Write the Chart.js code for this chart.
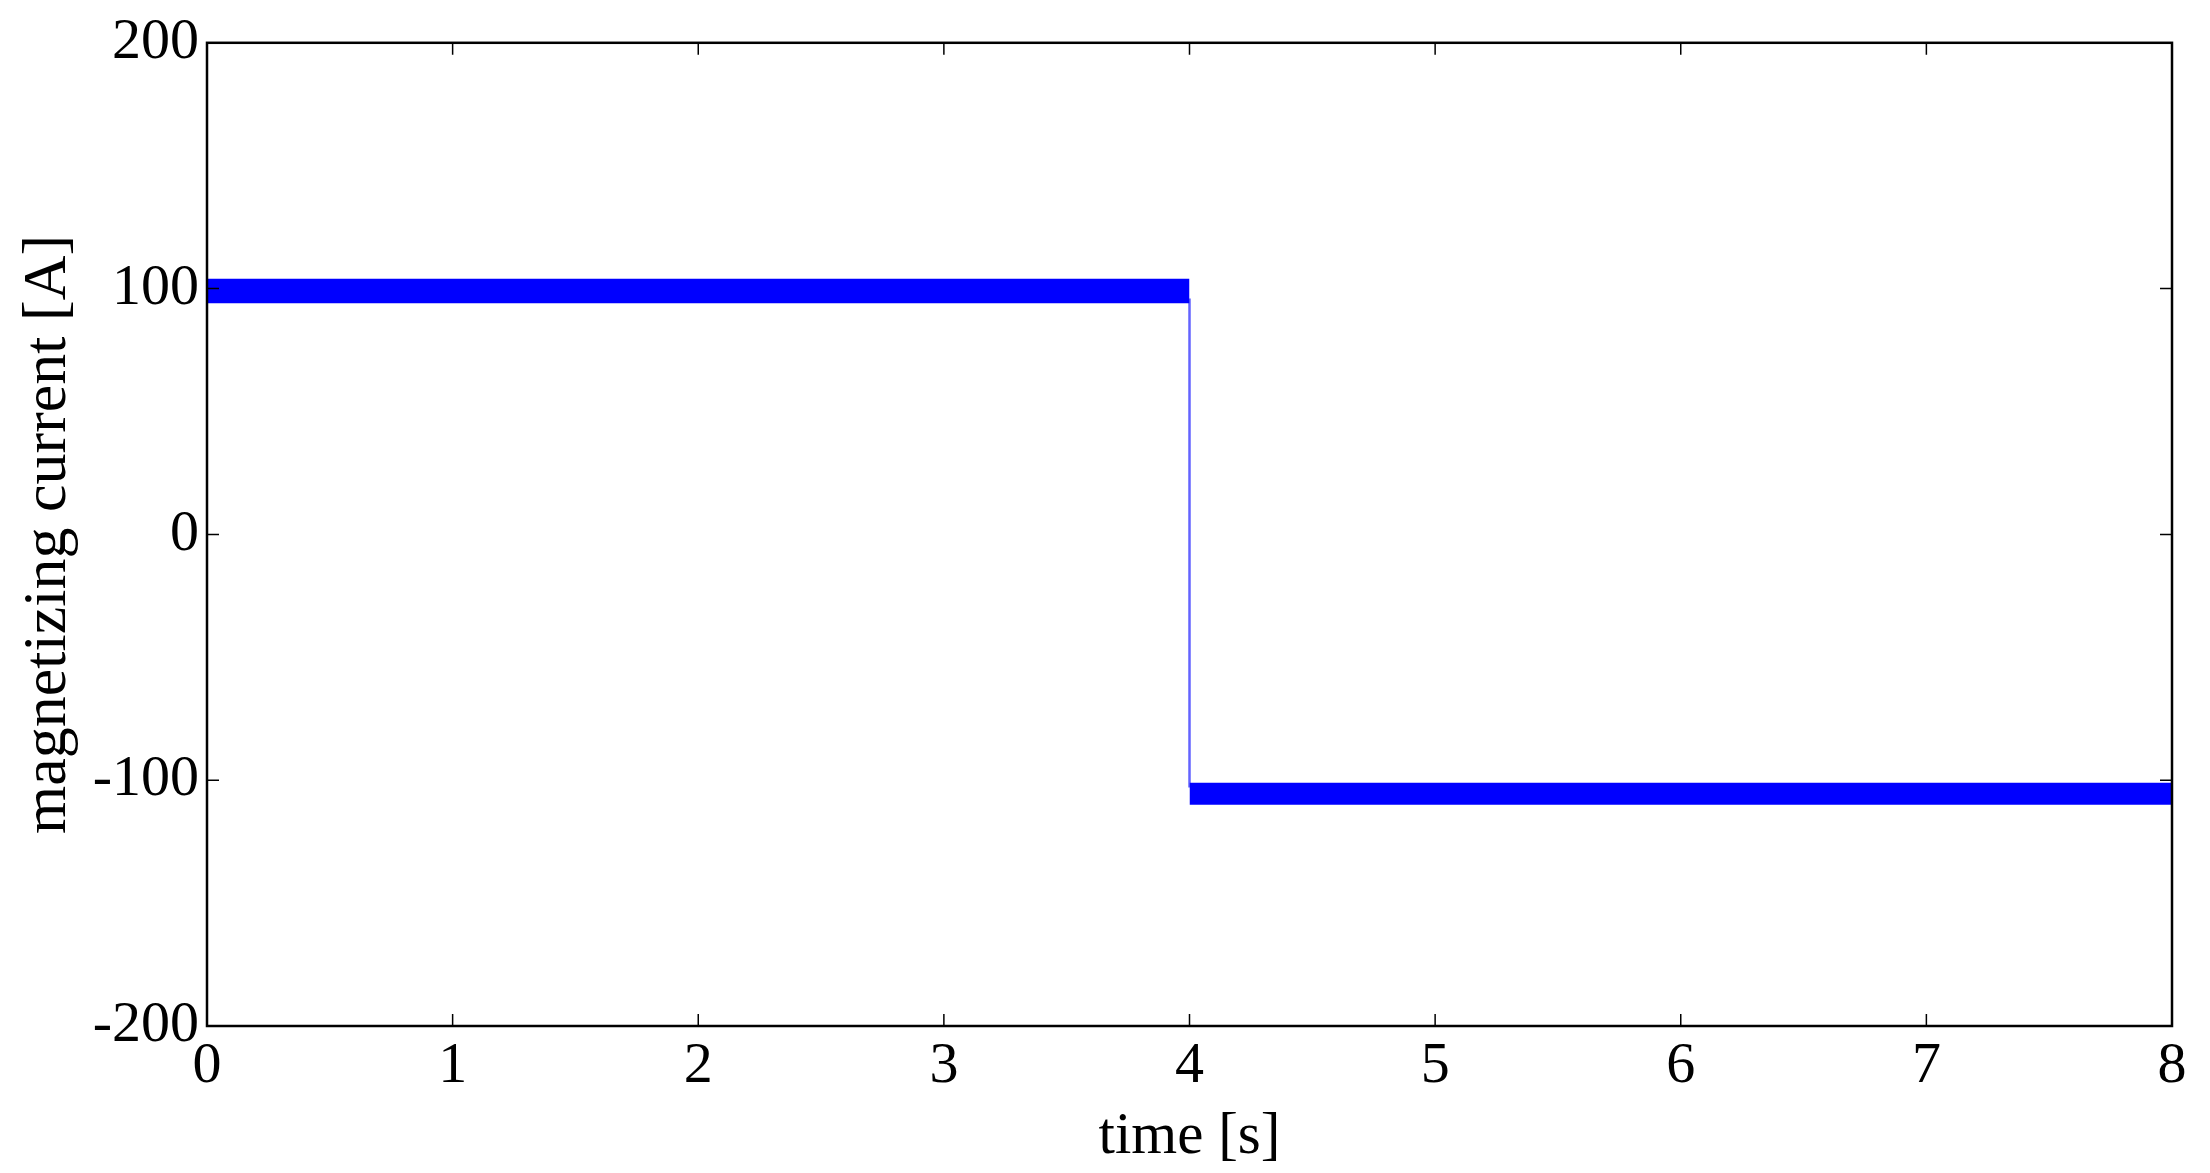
<!DOCTYPE html>
<html><head><meta charset="utf-8">
<script src="https://cdn.jsdelivr.net/npm/chart.js@4"></script>
<style>html,body{margin:0;padding:0;background:#fff}#w{width:2210px;height:1173px}</style>
</head><body><div id="w"><canvas id="c"></canvas></div>
<script>
// Envelope of the high-frequency ripple
const timeBefore = [0, 4];
const upperBefore = [104, 104];
const lowerBefore = [94, 94];
const timeAfter = [4, 8];
const upperAfter = [-101, -101];
const lowerAfter = [-110, -110];
const stepTime = [4, 4];
const stepValues = [96, -103];
const xTicks = [0,1,2,3,4,5,6,7,8];
const yTicks = [-200,-100,0,100,200];

const pts = (xs, ys) => xs.map((x,i)=>({x, y: ys[i]}));
const blue = '#0000ff';

const tickPlugin = {
  id:'inTicks',
  afterDraw(chart){
    const {ctx, chartArea:a, scales:{x,y}} = chart;
    ctx.save(); ctx.strokeStyle='#000'; ctx.lineWidth=1.5;
    const L=12;
    xTicks.forEach(v=>{const p=x.getPixelForValue(v);
      ctx.beginPath();ctx.moveTo(p,a.bottom);ctx.lineTo(p,a.bottom-L);
      ctx.moveTo(p,a.top);ctx.lineTo(p,a.top+L);ctx.stroke();});
    yTicks.forEach(v=>{const p=y.getPixelForValue(v);
      ctx.beginPath();ctx.moveTo(a.left,p);ctx.lineTo(a.left+L,p);
      ctx.moveTo(a.right,p);ctx.lineTo(a.right-L,p);ctx.stroke();});
    ctx.lineWidth=2.5;
    ctx.strokeRect(a.left,a.top,a.right-a.left,a.bottom-a.top);
    ctx.restore();
  }
};

new Chart(document.getElementById('c'), {
  type:'line',
  data:{datasets:[
    {data:pts(timeBefore,upperBefore),borderColor:blue,borderWidth:0,pointRadius:0,fill:false},
    {data:pts(timeBefore,lowerBefore),borderColor:blue,borderWidth:0,pointRadius:0,fill:'-1',backgroundColor:blue},
    {data:pts(timeAfter,upperAfter),borderColor:blue,borderWidth:0,pointRadius:0,fill:false},
    {data:pts(timeAfter,lowerAfter),borderColor:blue,borderWidth:0,pointRadius:0,fill:'-1',backgroundColor:blue},
    {data:pts(stepTime,stepValues),borderColor:'rgba(60,60,255,0.8)',borderWidth:2.5,pointRadius:0,fill:false}
  ]},
  options:{
    responsive:true, maintainAspectRatio:false, animation:false,
    layout:{padding:{top:38,right:38,left:0,bottom:0}},
    plugins:{legend:{display:false},tooltip:{enabled:false}},
    scales:{
      x:{type:'linear',min:0,max:8,
        afterFit(s){s.height=147;},
        afterBuildTicks(s){s.ticks=xTicks.map(v=>({value:v}));},
        grid:{display:false,drawTicks:false},border:{display:false},
        ticks:{color:'#000',padding:6,font:{family:'Liberation Serif',size:58}},
        title:{display:true,text:'time [s]',color:'#000',padding:{top:-28,bottom:0},font:{family:'Liberation Serif',size:59}}},
      y:{type:'linear',min:-200,max:200,
        afterFit(s){s.width=207;},
        afterBuildTicks(s){s.ticks=yTicks.map(v=>({value:v}));},
        grid:{display:false,drawTicks:false},border:{display:false},
        ticks:{color:'#000',padding:8,font:{family:'Liberation Serif',size:58}},
        title:{display:true,text:'magnetizing current [A]',color:'#000',padding:{top:12,bottom:0},font:{family:'Liberation Serif',size:62}}}
    }
  },
  plugins:[tickPlugin]
});
</script></body></html>
